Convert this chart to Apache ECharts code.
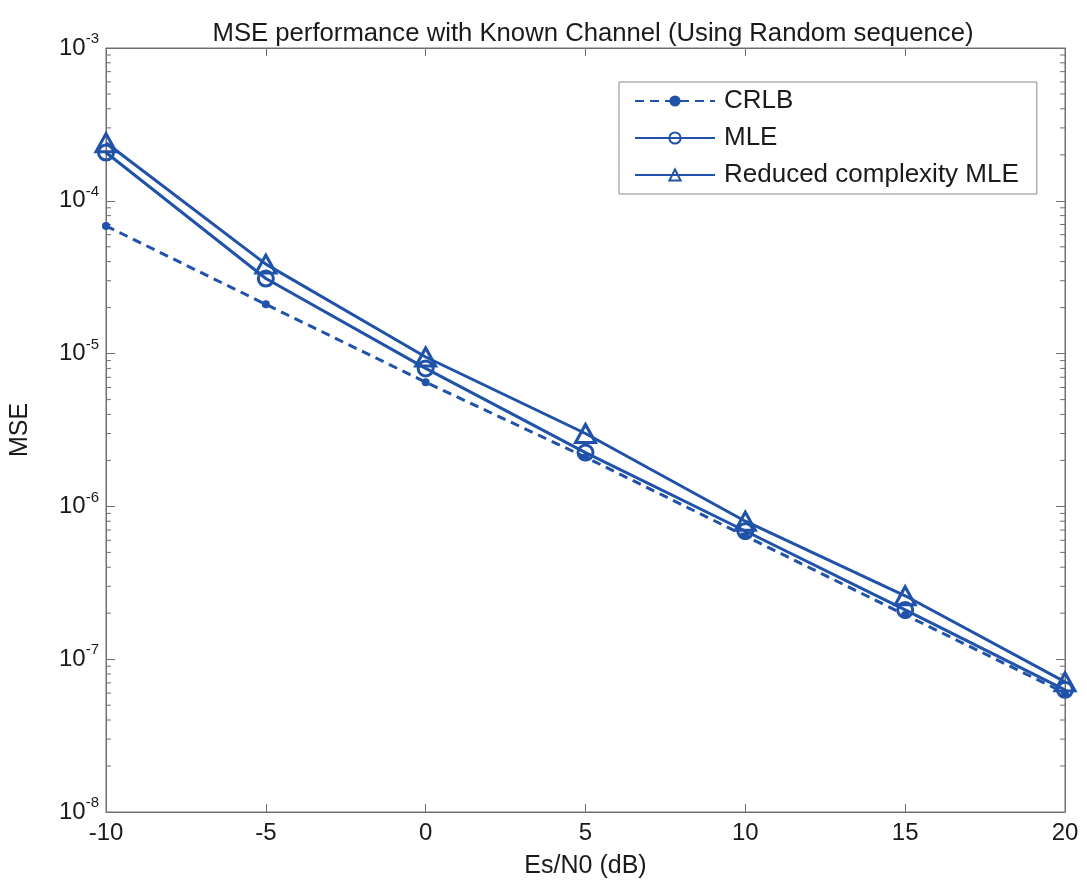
<!DOCTYPE html>
<html>
<head>
<meta charset="utf-8">
<style>
  html, body { margin: 0; padding: 0; background: #ffffff; }
  #chart { width: 1087px; height: 892px; }
</style>
<script src="https://cdn.jsdelivr.net/npm/echarts@6/dist/echarts.min.js"></script>
</head>
<body>
<div id="chart"></div>
<script>
// Es/N0 points (dB)
const snrDb = [-10, -5, 0, 5, 10, 15, 20];

// MSE values per estimator
const crlb = [6.85e-5, 2.1e-5, 6.5e-6, 2.1e-6, 6.4e-7, 1.95e-7, 6.0e-8];
const mle = [2.07e-4, 3.1e-5, 8.0e-6, 2.25e-6, 6.9e-7, 2.1e-7, 6.3e-8];
const reducedMle = [2.4e-4, 3.85e-5, 9.5e-6, 3.0e-6, 8.0e-7, 2.6e-7, 7.1e-8];

// Axis ranges and tick settings
const xTicks = [-10, -5, 0, 5, 10, 15, 20];
const yDecades = [-8, -7, -6, -5, -4, -3];
const minorMultipliers = [2, 3, 4, 5, 6, 7, 8, 9];

const BLUE = '#1f52a8';
const AXIS = '#707070';
const TEXT = '#1a1a1a';
const FONT = 'Liberation Sans, Arial, Helvetica, sans-serif';

// Minor tick positions on the log axis (2..9 within each decade)
const minorValues = [];
for (let i = 0; i < yDecades.length - 1; i++) {
  for (const m of minorMultipliers) minorValues.push([0, m * Math.pow(10, yDecades[i])]);
}

function pairs(ys) { return snrDb.map((x, i) => [x, ys[i]]); }

function expLabel(v) {
  const e = Math.round(Math.log10(v));
  return '{b|10}{s|' + e + '}';
}

const labelRich = {
  b: { fontSize: 24, fontFamily: FONT, color: TEXT },
  s: { fontSize: 15, fontFamily: FONT, color: TEXT, padding: [0, 0, 18, 0] }
};

const chart = echarts.init(document.getElementById('chart'), null, { renderer: 'canvas' });

chart.setOption({
  backgroundColor: '#ffffff',
  animation: false,
  title: {
    text: 'MSE performance with Known Channel (Using Random sequence)',
    left: 588, top: 16, textAlign: 'center',
    textStyle: { fontFamily: FONT, fontSize: 25.7, fontWeight: 'normal', color: TEXT }
  },
  grid: {
    left: 106, right: 22, top: 48, bottom: 80,
    outerBoundsMode: 'none', containLabel: false,
    show: true, borderColor: AXIS, borderWidth: 1, backgroundColor: 'transparent'
  },
  legend: {
    data: ['CRLB', 'MLE', 'Reduced complexity MLE'],
    orient: 'vertical',
    left: 619, top: 82,
    padding: [6, 18, 6, 15],
    itemWidth: 80, itemHeight: 14, itemGap: 11,
    borderColor: '#8a8a8a', borderWidth: 1,
    backgroundColor: '#ffffff',
    textStyle: { fontFamily: FONT, fontSize: 26, color: TEXT, padding: [0, 0, 0, 4] }
  },
  xAxis: [
    {
      type: 'value', min: -10, max: 20, interval: 5,
      name: 'Es/N0 (dB)', nameLocation: 'middle', nameGap: 42,
      nameTextStyle: { fontFamily: FONT, fontSize: 25, color: TEXT },
      axisLine: { show: true, onZero: false, lineStyle: { color: AXIS, width: 1 } },
      axisTick: { show: true, inside: true, length: 8, lineStyle: { color: AXIS } },
      axisLabel: { fontFamily: FONT, fontSize: 24, color: TEXT, margin: 9,
        customValues: xTicks },
      splitLine: { show: false }
    },
    {
      type: 'value', min: -10, max: 20, interval: 5, position: 'top',
      axisLine: { show: true, onZero: false, lineStyle: { color: AXIS, width: 1 } },
      axisTick: { show: true, inside: true, length: 8, lineStyle: { color: AXIS } },
      axisLabel: { show: false }, splitLine: { show: false }
    }
  ],
  yAxis: [
    {
      type: 'log', logBase: 10, min: 1e-8, max: 1e-3,
      name: 'MSE', nameLocation: 'middle', nameGap: 73, nameRotate: 90,
      nameTextStyle: { fontFamily: FONT, fontSize: 25, color: TEXT },
      axisLine: { show: true, onZero: false, lineStyle: { color: AXIS, width: 1 } },
      axisTick: { show: true, inside: true, length: 9, lineStyle: { color: AXIS } },
      axisLabel: { formatter: expLabel, rich: labelRich, margin: 7 },
      splitLine: { show: false }
    },
    {
      type: 'log', logBase: 10, min: 1e-8, max: 1e-3, position: 'right',
      axisLine: { show: true, onZero: false, lineStyle: { color: AXIS, width: 1 } },
      axisTick: { show: true, inside: true, length: 9, lineStyle: { color: AXIS } },
      axisLabel: { show: false }, splitLine: { show: false }
    }
  ],
  series: [
    {
      name: 'minor-ticks', type: 'custom', silent: true, z: 1,
      data: minorValues,
      renderItem: function (params, api) {
        const v = api.value(1);
        const l = api.coord([-10, v]);
        const r = api.coord([20, v]);
        const style = { stroke: AXIS, lineWidth: 1 };
        return {
          type: 'group',
          children: [
            { type: 'line', shape: { x1: l[0], y1: l[1], x2: l[0] + 5, y2: l[1] }, style: style },
            { type: 'line', shape: { x1: r[0] - 5, y1: r[1], x2: r[0], y2: r[1] }, style: style }
          ]
        };
      }
    },
    {
      name: 'CRLB', type: 'line', data: pairs(crlb), z: 3,
      symbol: 'circle', symbolSize: 8, showAllSymbol: true,
      lineStyle: { color: BLUE, width: 3, type: [9, 6] },
      itemStyle: { color: BLUE, borderColor: BLUE, borderWidth: 0 }
    },
    {
      name: 'MLE', type: 'line', data: pairs(mle), z: 4,
      symbol: 'circle', symbolSize: 15, showAllSymbol: true,
      lineStyle: { color: BLUE, width: 3 },
      itemStyle: { color: 'transparent', borderColor: BLUE, borderWidth: 3 }
    },
    {
      name: 'Reduced complexity MLE', type: 'line', data: pairs(reducedMle), z: 5,
      symbol: 'triangle', symbolSize: [20, 18], showAllSymbol: true,
      lineStyle: { color: BLUE, width: 3 },
      itemStyle: { color: 'transparent', borderColor: BLUE, borderWidth: 3 }
    }
  ]
});
</script>
</body>
</html>
